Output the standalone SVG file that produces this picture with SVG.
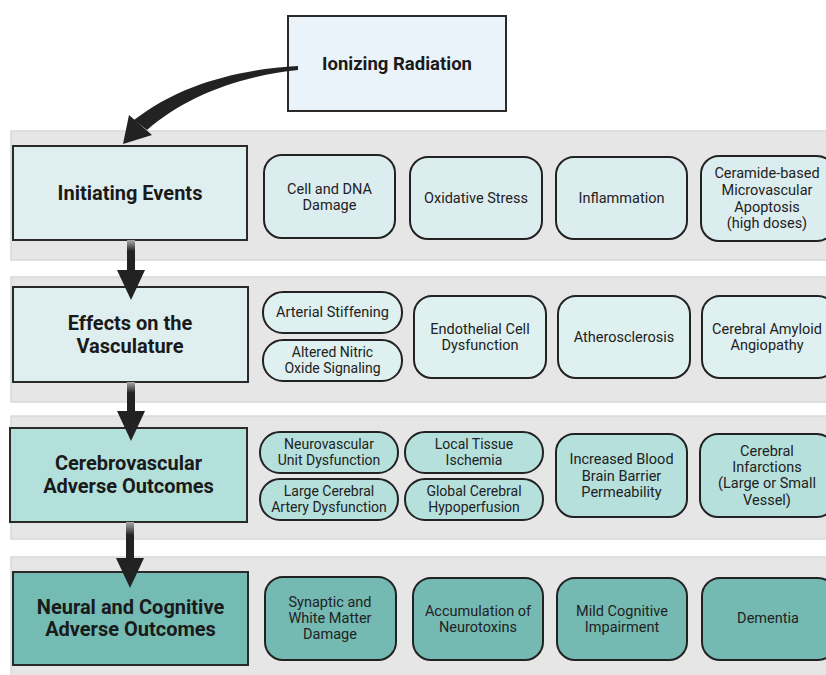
<svg xmlns="http://www.w3.org/2000/svg" width="826" height="675" viewBox="0 0 826 675">
<defs>
<style>
.band{fill:#e6e6e6;stroke:#d6dada;stroke-width:1.5}
.hdr{stroke:#2a2a2a;stroke-width:2}
.item{stroke:#222;stroke-width:2}
.h1{fill:#dfeff0}.h3{fill:#b4e0dc}.h4{fill:#74bbb4}
.i1{fill:#dcedf0}.i2{fill:#def0ef}.i3{fill:#b5e0dc}.i4{fill:#74bab3}
.ht{font-family:Roboto,"Liberation Sans",sans-serif;font-weight:bold;font-size:20px;fill:#1a1a1a;text-anchor:middle}
.it{font-family:Roboto,"Liberation Sans",sans-serif;font-size:14.5px;fill:#222;text-anchor:middle}
.pt{font-size:14px}
.arr{fill:#222}
</style>
<linearGradient id="shaft" x1="0" y1="0" x2="0" y2="1">
<stop offset="0" stop-color="#aaaaaa"/>
<stop offset="0.35" stop-color="#222"/>
<stop offset="1" stop-color="#222"/>
</linearGradient>
</defs>
<rect width="826" height="675" fill="#ffffff"/>

<g id="bands">
<rect class="band" x="11" y="131" width="830" height="129"/>
<rect class="band" x="11" y="277" width="830" height="125"/>
<rect class="band" x="11" y="416" width="830" height="123"/>
<rect class="band" x="11" y="557" width="830" height="130"/>
</g>

<g id="ionizing-radiation">
<rect x="288" y="16" width="218" height="95" fill="#eaf3f9" stroke="#2a2a2a" stroke-width="2"/>
<text class="ht" x="397" y="70" style="font-size:18.5px">Ionizing Radiation</text>
</g>

<g id="initiating-events">
<rect class="hdr h1" x="13" y="146" width="234" height="94"/>
<text class="ht" x="130" y="200">Initiating Events</text>
</g>
<g id="cell-dna-damage">
<rect class="item i1" x="264" y="155" width="131" height="83" rx="18"/>
<text class="it" x="329.5" y="194">Cell and DNA</text>
<text class="it" x="329.5" y="210">Damage</text>
</g>
<g id="oxidative-stress">
<rect class="item i1" x="410" y="157" width="132" height="82" rx="18"/>
<text class="it" x="476" y="203">Oxidative Stress</text>
</g>
<g id="inflammation">
<rect class="item i1" x="556" y="157" width="131" height="82" rx="18"/>
<text class="it" x="621.5" y="203">Inflammation</text>
</g>
<g id="ceramide">
<rect class="item i1" x="701" y="156" width="134" height="85" rx="18"/>
<text class="it" x="767" y="178">Ceramide-based</text>
<text class="it" x="767" y="195">Microvascular</text>
<text class="it" x="767" y="212">Apoptosis</text>
<text class="it" x="767" y="228">(high doses)</text>
</g>

<g id="effects-vasculature">
<rect class="hdr h1" x="13" y="287" width="235" height="95"/>
<text class="ht" x="130" y="330">Effects on the</text>
<text class="ht" x="130" y="353">Vasculature</text>
</g>
<g id="arterial-stiffening">
<rect class="item i2" x="263" y="292" width="139" height="41" rx="20"/>
<text class="it" x="332.5" y="317">Arterial Stiffening</text>
</g>
<g id="altered-nitric-oxide">
<rect class="item i2" x="263" y="340" width="139" height="41" rx="20"/>
<text class="it pt" x="332.5" y="357">Altered Nitric</text>
<text class="it pt" x="332.5" y="373">Oxide Signaling</text>
</g>
<g id="endothelial">
<rect class="item i2" x="414" y="296" width="132" height="82" rx="18"/>
<text class="it" x="480" y="334">Endothelial Cell</text>
<text class="it" x="480" y="350">Dysfunction</text>
</g>
<g id="atherosclerosis">
<rect class="item i2" x="558" y="296" width="132" height="82" rx="18"/>
<text class="it" x="624" y="342">Atherosclerosis</text>
</g>
<g id="amyloid">
<rect class="item i2" x="702" y="296" width="134" height="82" rx="18"/>
<text class="it" x="767" y="334">Cerebral Amyloid</text>
<text class="it" x="767" y="350">Angiopathy</text>
</g>

<g id="cerebrovascular">
<rect class="hdr h3" x="10" y="428" width="237" height="94"/>
<text class="ht" x="128.5" y="470">Cerebrovascular</text>
<text class="ht" x="128.5" y="493">Adverse Outcomes</text>
</g>
<g id="neurovascular">
<rect class="item i3" x="260" y="432" width="138" height="41" rx="20"/>
<text class="it pt" x="329" y="449">Neurovascular</text>
<text class="it pt" x="329" y="465">Unit Dysfunction</text>
</g>
<g id="large-cerebral">
<rect class="item i3" x="260" y="479" width="138" height="41" rx="20"/>
<text class="it pt" x="329" y="496">Large Cerebral</text>
<text class="it pt" x="329" y="512">Artery Dysfunction</text>
</g>
<g id="local-ischemia">
<rect class="item i3" x="405" y="432" width="138" height="41" rx="20"/>
<text class="it pt" x="474" y="449">Local Tissue</text>
<text class="it pt" x="474" y="465">Ischemia</text>
</g>
<g id="global-hypoperfusion">
<rect class="item i3" x="405" y="479" width="138" height="41" rx="20"/>
<text class="it pt" x="474" y="496">Global Cerebral</text>
<text class="it pt" x="474" y="512">Hypoperfusion</text>
</g>
<g id="bbb">
<rect class="item i3" x="556" y="434" width="131" height="83" rx="18"/>
<text class="it" x="621.5" y="464">Increased Blood</text>
<text class="it" x="621.5" y="481">Brain Barrier</text>
<text class="it" x="621.5" y="497">Permeability</text>
</g>
<g id="infarctions">
<rect class="item i3" x="700" y="434" width="135" height="83" rx="18"/>
<text class="it" x="767" y="456">Cerebral</text>
<text class="it" x="767" y="472">Infarctions</text>
<text class="it" x="767" y="488">(Large or Small</text>
<text class="it" x="767" y="505">Vessel)</text>
</g>

<g id="neural-cognitive">
<rect class="hdr h4" x="13" y="572" width="235" height="93"/>
<text class="ht" x="130.5" y="614">Neural and Cognitive</text>
<text class="ht" x="130.5" y="636">Adverse Outcomes</text>
</g>
<g id="synaptic">
<rect class="item i4" x="265" y="577" width="131" height="83" rx="18"/>
<text class="it" x="330" y="607">Synaptic and</text>
<text class="it" x="330" y="623">White Matter</text>
<text class="it" x="330" y="639">Damage</text>
</g>
<g id="neurotoxins">
<rect class="item i4" x="413" y="578" width="130" height="82" rx="18"/>
<text class="it" x="478" y="616">Accumulation of</text>
<text class="it" x="478" y="632">Neurotoxins</text>
</g>
<g id="mci">
<rect class="item i4" x="557" y="578" width="130" height="82" rx="18"/>
<text class="it" x="622" y="616">Mild Cognitive</text>
<text class="it" x="622" y="632">Impairment</text>
</g>
<g id="dementia">
<rect class="item i4" x="702" y="578" width="134" height="82" rx="18"/>
<text class="it" x="768" y="623">Dementia</text>
</g>

<g id="connectors">
<path class="arr" d="M298,66 C240,69 180,84 134,120 L147,130 C186,96 240,76 298,70 Z"/>
<polygon class="arr" points="123,144 129,115 152,135"/>
<rect x="127" y="240" width="8" height="32" fill="url(#shaft)"/>
<polygon class="arr" points="117,270 145,270 131,300"/>
<rect x="127" y="382" width="8" height="31" fill="url(#shaft)"/>
<polygon class="arr" points="117,411 145,411 131,441"/>
<rect x="126" y="522" width="8" height="38" fill="url(#shaft)"/>
<polygon class="arr" points="116,558 144,558 130,588"/>
</g>
</svg>
